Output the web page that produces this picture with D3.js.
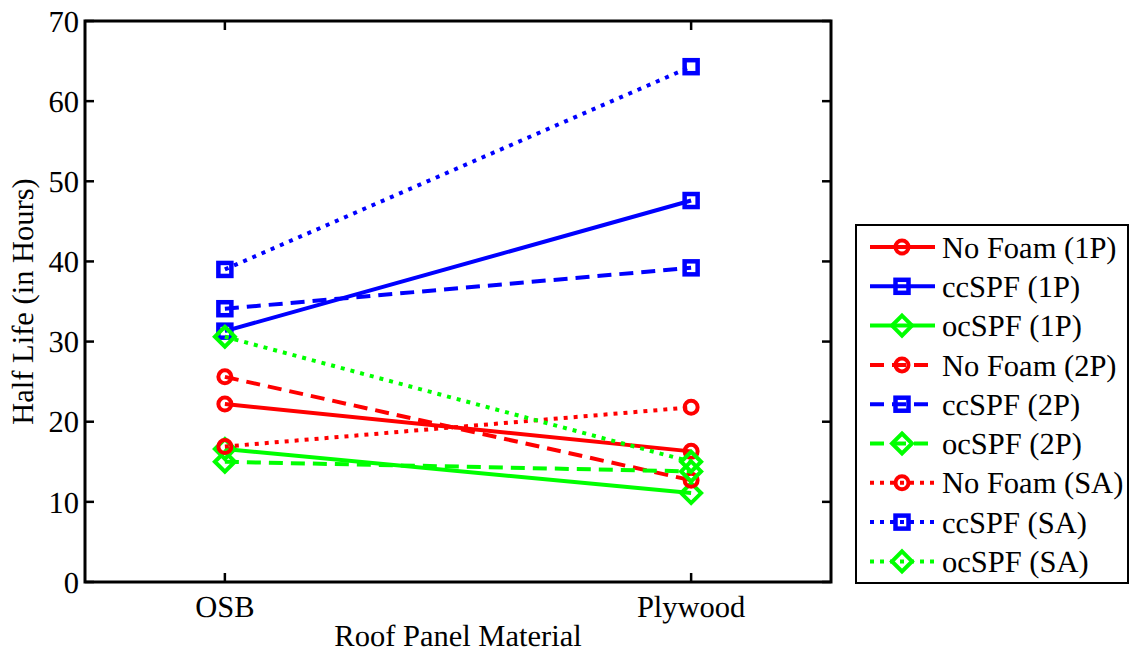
<!DOCTYPE html>
<html>
<head>
<meta charset="utf-8">
<script src="https://cdn.jsdelivr.net/npm/d3@7"></script>
<style>
  body { margin: 0; background: #fff; }
  svg text { text-rendering: geometricPrecision; }
</style>
</head>
<body>
<svg id="chart" width="1130" height="654" font-family="Liberation Serif"></svg>
<script>
// Roof panel materials (x categories)
const categories = ["OSB", "Plywood"];
const yTicks = [0, 10, 20, 30, 40, 50, 60, 70];

// Half-life in hours for each configuration: [OSB, Plywood]
const seriesNames = ["No Foam (1P)", "ccSPF (1P)", "ocSPF (1P)",
                     "No Foam (2P)", "ccSPF (2P)", "ocSPF (2P)",
                     "No Foam (SA)", "ccSPF (SA)", "ocSPF (SA)"];
const noFoam1P = [22.2, 16.3];
const ccSPF1P  = [31.3, 47.6];
const ocSPF1P  = [16.6, 11.1];
const noFoam2P = [25.6, 12.7];
const ccSPF2P  = [34.1, 39.2];
const ocSPF2P  = [15.0, 13.8];
const noFoamSA = [16.9, 21.8];
const ccSPFSA  = [39.0, 64.3];
const ocSPFSA  = [30.6, 15.0];
const seriesValues = [noFoam1P, ccSPF1P, ocSPF1P, noFoam2P, ccSPF2P, ocSPF2P, noFoamSA, ccSPFSA, ocSPFSA];

const colors = { nofoam: "#ff0000", cc: "#0000ff", oc: "#00ff00" };
const seriesColor = ["nofoam", "cc", "oc", "nofoam", "cc", "oc", "nofoam", "cc", "oc"].map(k => colors[k]);
const seriesMarker = ["circle", "square", "diamond", "circle", "square", "diamond", "circle", "square", "diamond"];
const seriesDash = ["none", "none", "none", "14,8", "14,8", "14,8", "4,6", "4,6", "4,6"];

const FONT = "'Liberation Serif', 'Times New Roman', serif";
const svg = d3.select("#chart");
const plotL = 85, plotR = 831, plotT = 21, plotB = 582;

const x = d3.scaleLinear().domain([0.7, 2.3]).range([plotL, plotR]);
const y = d3.scaleLinear().domain([0, 70]).range([plotB, plotT]);

function label(sel, tx, ty, str) {
  return sel.append("text").attr("x", tx).attr("y", ty)
    .attr("font-family", FONT).style("font-family", FONT)
    .attr("font-size", 30.5).attr("fill", "#000").text(str);
}

// Ticks (inside, on all four sides)
const tickLen = 9;
const g = svg.append("g");
yTicks.forEach(t => {
  g.append("line").attr("x1", plotL).attr("x2", plotL + tickLen).attr("y1", y(t)).attr("y2", y(t))
    .attr("stroke", "#000").attr("stroke-width", 2.5);
  g.append("line").attr("x1", plotR).attr("x2", plotR - tickLen).attr("y1", y(t)).attr("y2", y(t))
    .attr("stroke", "#000").attr("stroke-width", 2.5);
  label(g, plotL - 6, y(t), t).attr("dy", "0.35em").attr("text-anchor", "end");
});
categories.forEach((c, i) => {
  const xc = x(i + 1);
  g.append("line").attr("x1", xc).attr("x2", xc).attr("y1", plotB).attr("y2", plotB - tickLen)
    .attr("stroke", "#000").attr("stroke-width", 2.5);
  g.append("line").attr("x1", xc).attr("x2", xc).attr("y1", plotT).attr("y2", plotT + tickLen)
    .attr("stroke", "#000").attr("stroke-width", 2.5);
  label(g, xc, 617, c).attr("text-anchor", "middle");
});

// Axes box
g.append("rect").attr("x", plotL).attr("y", plotT).attr("width", plotR - plotL).attr("height", plotB - plotT)
  .attr("fill", "none").attr("stroke", "#000").attr("stroke-width", 3);

// Axis titles
label(svg, (plotL + plotR) / 2, 646, "Roof Panel Material").attr("text-anchor", "middle");
label(svg, 0, 0, "Half Life (in Hours)").attr("text-anchor", "middle")
  .attr("transform", `translate(33,${(plotT + plotB) / 2}) rotate(-90)`);

function drawMarker(sel, type, cx, cy, color) {
  if (type === "circle") {
    sel.append("circle").attr("cx", cx).attr("cy", cy).attr("r", 6.5)
      .attr("fill", "none").attr("stroke", color).attr("stroke-width", 4);
  } else if (type === "square") {
    sel.append("rect").attr("x", cx - 6.5).attr("y", cy - 6.5).attr("width", 13).attr("height", 13)
      .attr("fill", "none").attr("stroke", color).attr("stroke-width", 4.5);
  } else {
    const s = 10;
    sel.append("path").attr("d", `M${cx},${cy - s}L${cx + s},${cy}L${cx},${cy + s}L${cx - s},${cy}Z`)
      .attr("fill", "none").attr("stroke", color).attr("stroke-width", 4);
  }
}

// Series lines with markers
const line = d3.line().x((d, i) => x(i + 1)).y(d => y(d));
const plot = svg.append("g");
seriesValues.forEach((vals, s) => {
  const gs = plot.append("g");
  gs.append("path").attr("d", line(vals)).attr("fill", "none")
    .attr("stroke", seriesColor[s]).attr("stroke-width", 4)
    .attr("stroke-dasharray", seriesDash[s] === "none" ? null : seriesDash[s]);
  vals.forEach((v, i) => drawMarker(gs, seriesMarker[s], x(i + 1), y(v), seriesColor[s]));
});

// Legend
const lgX = 856, lgY = 225, lgW = 272, lgH = 358;
const lg = svg.append("g");
lg.append("rect").attr("x", lgX).attr("y", lgY).attr("width", lgW).attr("height", lgH)
  .attr("fill", "#fff").attr("stroke", "#000").attr("stroke-width", 2);
seriesNames.forEach((name, s) => {
  const cy = 247 + s * 39.3;
  lg.append("line").attr("x1", 870).attr("x2", 935).attr("y1", cy).attr("y2", cy)
    .attr("stroke", seriesColor[s]).attr("stroke-width", 4)
    .attr("stroke-dasharray", seriesDash[s] === "none" ? null : seriesDash[s]);
  drawMarker(lg, seriesMarker[s], 902, cy, seriesColor[s]);
  label(lg, 942, cy, name).attr("dy", "0.35em");
});
</script>
</body>
</html>
